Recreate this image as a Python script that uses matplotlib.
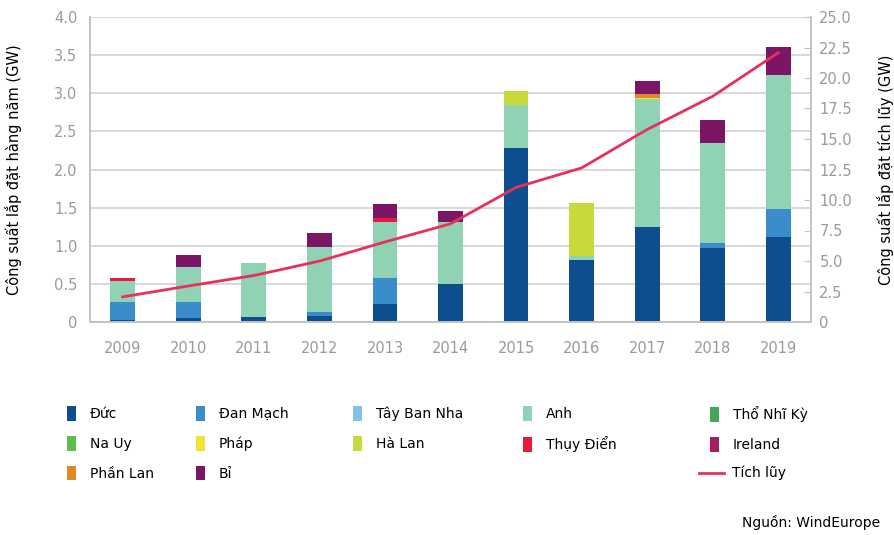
import numpy as np
import matplotlib
matplotlib.use("Agg")
import matplotlib.pyplot as plt
from matplotlib.patches import Patch
from matplotlib.lines import Line2D

plt.rcParams['font.family'] = ['DejaVu Sans']

years = [2009, 2010, 2011, 2012, 2013, 2014, 2015, 2016, 2017, 2018, 2019]

# annual offshore installations by country (GW)
duc         = [0.03, 0.05, 0.06, 0.08, 0.23, 0.50, 2.28, 0.81, 1.25, 0.97, 1.11]
dan_mach    = [0.23, 0.21, 0.00, 0.05, 0.35, 0.00, 0.00, 0.00, 0.00, 0.06, 0.37]
tay_ban_nha = [0.00, 0.00, 0.00, 0.00, 0.00, 0.00, 0.00, 0.00, 0.00, 0.005, 0.00]
anh         = [0.28, 0.46, 0.72, 0.85, 0.73, 0.81, 0.57, 0.06, 1.68, 1.31, 1.76]
tho_nhi_ky  = [0.00, 0.00, 0.00, 0.00, 0.00, 0.00, 0.00, 0.00, 0.00, 0.00, 0.00]
na_uy       = [0.002, 0.00, 0.00, 0.00, 0.00, 0.00, 0.00, 0.00, 0.00, 0.00, 0.00]
phap        = [0.00, 0.00, 0.00, 0.00, 0.00, 0.00, 0.00, 0.00, 0.002, 0.00, 0.00]
ha_lan      = [0.00, 0.00, 0.00, 0.00, 0.00, 0.00, 0.18, 0.69, 0.00, 0.00, 0.00]
thuy_dien   = [0.03, 0.00, 0.00, 0.00, 0.05, 0.00, 0.00, 0.00, 0.00, 0.00, 0.00]
ireland     = [0.00, 0.00, 0.00, 0.00, 0.00, 0.00, 0.00, 0.00, 0.00, 0.00, 0.00]
phan_lan    = [0.00, 0.00, 0.00, 0.00, 0.00, 0.00, 0.00, -0.02, 0.06, 0.00, 0.00]
bi          = [0.00, 0.165, 0.00, 0.185, 0.19, 0.14, 0.00, 0.00, 0.165, 0.31, 0.37]

# cumulative capacity (GW)
tich_luy = [2.06, 2.95, 3.81, 4.99, 6.56, 8.05, 11.03, 12.63, 15.78, 18.5, 22.07]

series = [
    ("Đức", duc, "#0d4f8e"),
    ("Đan Mạch", dan_mach, "#3a8ccb"),
    ("Tây Ban Nha", tay_ban_nha, "#7fc3ea"),
    ("Anh", anh, "#8fd3b4"),
    ("Thổ Nhĩ Kỳ", tho_nhi_ky, "#3fa65a"),
    ("Na Uy", na_uy, "#5cbf4c"),
    ("Pháp", phap, "#f2e233"),
    ("Hà Lan", ha_lan, "#c8d93c"),
    ("Thụy Điển", thuy_dien, "#e8193f"),
    ("Ireland", ireland, "#a51d5e"),
    ("Phần Lan", phan_lan, "#e08a25"),
    ("Bỉ", bi, "#7a1663"),
]
line_color = "#e8305c"
grey = "#9a9a9a"

fig = plt.figure(figsize=(8.94, 5.35), dpi=100)
ax = fig.add_axes([90 / 894, 1 - 322 / 535, 721 / 894, 305 / 535])
ax2 = ax.twinx()

x = np.arange(len(years))
pos = np.zeros(len(years))
neg = np.zeros(len(years))
for name, vals, col in series:
    v = np.array(vals)
    bottom = np.where(v >= 0, pos, neg)
    ax.bar(x, v, 0.38, bottom=bottom, color=col, linewidth=0, zorder=2)
    pos += np.where(v >= 0, v, 0)
    neg += np.where(v < 0, v, 0)

ax2.plot(x, tich_luy, color=line_color, lw=2, zorder=3)

ax.set_xlim(-0.5, len(years) - 0.5)
ax.set_ylim(0, 4.0)
ax2.set_ylim(0, 25)
ax.set_yticks(np.arange(0, 4.01, 0.5))
ax.set_yticklabels(["0"] + [f"{t:.1f}" for t in np.arange(0.5, 4.01, 0.5)])
ax2.set_yticks(np.arange(0, 25.1, 2.5))
ax2.set_yticklabels(["0"] + [f"{t:.1f}" for t in np.arange(2.5, 25.1, 2.5)])
ax.set_xticks(x)
ax.set_xticklabels([str(y) for y in years])

ax.set_axisbelow(True)
ax.grid(axis="y", color="#d8d8d8", lw=1.4)
for a in (ax, ax2):
    a.spines["top"].set_visible(False)
    for s in ("left", "right", "bottom"):
        a.spines[s].set_color("#c4c4c4")
        a.spines[s].set_linewidth(1.2)

ax.tick_params(axis="y", length=0, pad=9, labelsize=10.5, labelcolor=grey)
ax.tick_params(axis="x", length=0, pad=14, labelsize=10.5, labelcolor=grey)
ax2.tick_params(axis="y", direction="in", length=5, color="#c4c4c4", pad=6,
                labelsize=10.5, labelcolor=grey)

ax.set_ylabel("Công suất lắp đặt hàng năm (GW)", fontsize=10.5, labelpad=23)
ax2.set_ylabel("Công suất lắp đặt tích lũy (GW)", fontsize=10.5, rotation=90,
               labelpad=18)

# legend: one block per column
lookup = {name: col for name, _, col in series}
columns = [
    (["Đức", "Na Uy", "Phần Lan"], 67),
    (["Đan Mạch", "Pháp", "Bỉ"], 196),
    (["Tây Ban Nha", "Hà Lan"], 353),
    (["Anh", "Thụy Điển"], 523),
    (["Thổ Nhĩ Kỳ", "Ireland"], 710),
]
for names, px in columns:
    handles = [Patch(facecolor=lookup[n], edgecolor="none", label=n) for n in names]
    fig.legend(handles=handles, loc="upper left",
               bbox_to_anchor=(px / 894, 1 - 406 / 535), frameon=False,
               fontsize=10, handlelength=0.65, handleheight=1.25,
               handletextpad=1.0, labelspacing=1.07, borderpad=0,
               borderaxespad=0)
fig.legend(handles=[Line2D([], [], color=line_color, lw=2, label="Tích lũy")],
           loc="upper left", bbox_to_anchor=(699 / 894, 1 - 466 / 535),
           frameon=False, fontsize=10, handlelength=1.8, handletextpad=0.6,
           borderpad=0, borderaxespad=0)

fig.text(880 / 894, 1 - 522 / 535, "Nguồn: WindEurope", ha="right",
         va="center", fontsize=10)

fig.savefig("out.png", dpi=100)
